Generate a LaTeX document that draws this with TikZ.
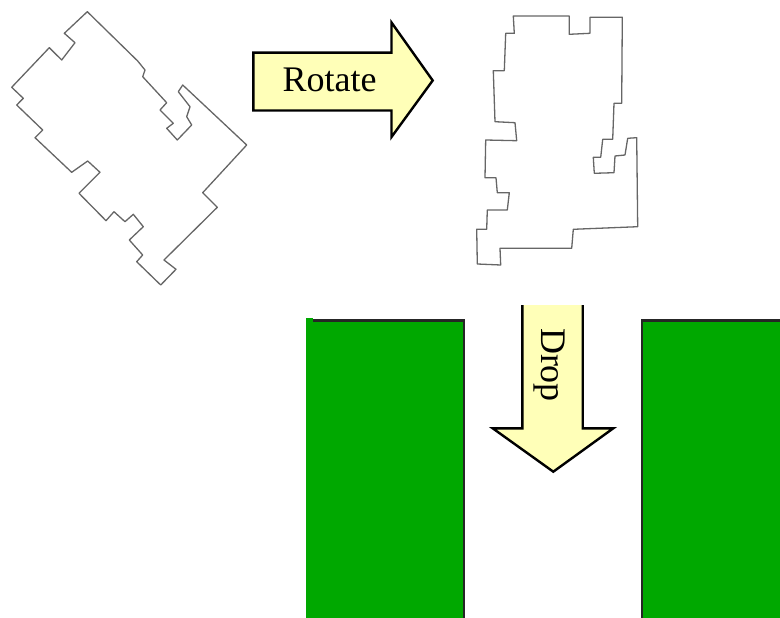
\documentclass[tikz,border=0pt]{standalone}
\usepackage{fontspec}
\setmainfont{Liberation Serif}
\usetikzlibrary{calc}
\definecolor{vert}{RGB}{0,168,0}
\definecolor{jaune}{RGB}{255,255,184}
\tikzset{
  contour/.style={draw=black!60,line width=1.3pt,line join=round},
  fleche/.style={fill=jaune,draw=black,line width=2.4pt,line join=miter},
  bloc/.style={fill=vert,draw=none},
  bord/.style={draw=black!85,line width=2.2pt},
  grand/.style={font=\fontsize{36}{40}\selectfont}
}
\begin{document}
\begin{tikzpicture}[x=1pt,y=-1pt]
\useasboundingbox (0,0) rectangle (780,618);
% Piece avant rotation
\draw [contour] (87.3,11.7) -- (137.7,61) -- (145,70) -- (142.7,76.7) -- (166.7,102.7)
  -- (160,110) -- (173.3,123.3) -- (166.7,128.3) -- (177.3,140) -- (191.7,125)
  -- (186.7,116.7) -- (190,106.7) -- (178.3,91.7) -- (182.7,85) -- (246.7,145)
  -- (202.7,192.7) -- (217.3,207.3) -- (164,260) -- (176,269.3) -- (160.7,285)
  -- (136.7,261.7) -- (142.7,255) -- (129.3,240) -- (143.3,226.7) -- (133.3,214.3)
  -- (125,221.7) -- (114,211.7) -- (106,220.7) -- (79,193.3) -- (100,172.3)
  -- (87.7,161) -- (71.7,172.3) -- (35,137.7) -- (42.7,130) -- (16.7,105)
  -- (23.3,98.3) -- (11.7,87.3) -- (49.3,47.7) -- (61.7,60) -- (75,42.7)
  -- (64.3,33.3) -- cycle;
% Piece apres rotation
\draw [contour] (513.3,16) -- (569.3,16) -- (569.3,34.3) -- (590,33.3) -- (590,17.3)
  -- (622.3,17.3) -- (621.7,103.3) -- (614,103.3) -- (612.7,139.3) -- (602.7,139.3)
  -- (600.7,157.3) -- (593.3,157.3) -- (594.3,173.3) -- (614,172.7) -- (615,156)
  -- (625,155) -- (627.7,138.3) -- (636.7,137.7) -- (637.7,226.7) -- (573.3,229.3)
  -- (571.7,248.3) -- (500,248.3) -- (500.7,265) -- (477.3,264) -- (476.7,229.3)
  -- (486.7,229.3) -- (487.3,210) -- (507.3,210) -- (509.3,192.7) -- (497.3,192.7)
  -- (496,177.7) -- (485,177.7) -- (485.7,140) -- (516.7,140.7) -- (515,122.7)
  -- (495,121.7) -- (493.3,70.7) -- (504.3,70.7) -- (505.7,33.3) -- (514.3,33.3) -- cycle;
% Fleches
\draw [fleche] (253.3,52.7) -- (391.5,52.7) -- (391.5,22.5) -- (432.7,80.5)
  -- (391.5,137) -- (391.5,110.5) -- (253.3,110.5) -- cycle;
\node [grand,anchor=base] (rot) at (329.5,91.5) {Rotate};
\fill [jaune] (522.3,305) -- (582.7,305) -- (582.7,428.3) -- (613.3,428.3) -- (553.3,471.7)
  -- (492.7,428.3) -- (522.3,428.3) -- cycle;
\draw [fleche,fill=none] (522.3,305) -- (522.3,428.3) -- (492.7,428.3) -- (553.3,471.7)
  -- (613.3,428.3) -- (582.7,428.3) -- (582.7,305);
\node [grand,rotate=-90] (drop) at (549,365) {Drop};
% Blocs
\fill [bloc] (306.3,320.5) rectangle (464,618);
\fill [bloc] (306.3,317.5) rectangle (312.5,320.5);
\draw [bord] (312.5,320.5) -- (464,320.5) -- (464,618);
\fill [bloc] (642,320.5) rectangle (780,618);
\draw [bord] (642,618) -- (642,320.5) -- (781,320.5);
\end{tikzpicture}
\end{document}
